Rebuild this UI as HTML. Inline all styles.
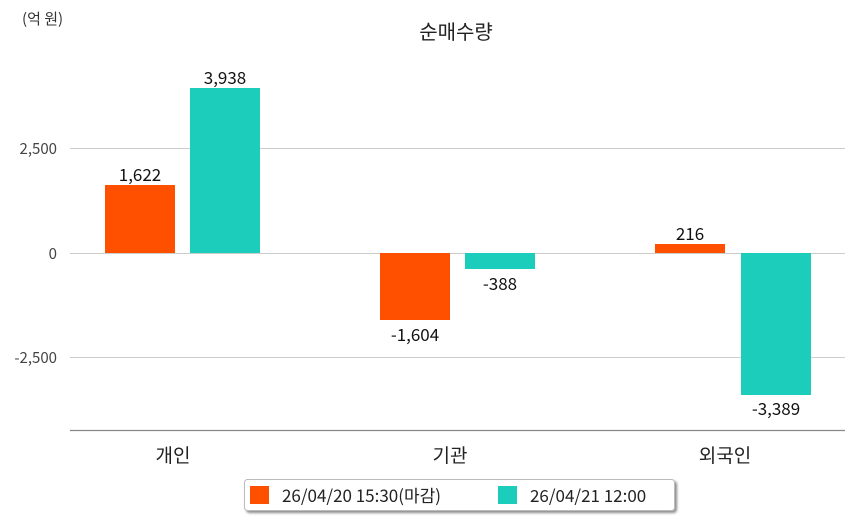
<!DOCTYPE html>
<html><head><meta charset="utf-8"><style>
html,body{margin:0;padding:0;background:#fff;}
svg{display:block;font-family:"Noto Sans CJK KR","NanumGothic",sans-serif;}
</style></head><body>
<svg width="854" height="520" viewBox="0 0 854 520" xmlns="http://www.w3.org/2000/svg">
<defs><filter id="sh" x="-5%" y="-20%" width="110%" height="160%"><feDropShadow dx="2" dy="2" stdDeviation="1.2" flood-color="#000" flood-opacity="0.45"/></filter></defs>
<text x="22" y="24" font-size="15" fill="#333">(억 원)</text>
<text x="456" y="39" font-size="20" fill="#222" text-anchor="middle">순매수량</text>
<g stroke="#cccccc" stroke-width="1">
<line x1="70" y1="148.5" x2="845" y2="148.5"/>
<line x1="70" y1="253.5" x2="845" y2="253.5"/>
<line x1="70" y1="357.5" x2="845" y2="357.5"/>
</g>
<line x1="70" y1="430.5" x2="845" y2="430.5" stroke="#888" stroke-width="1.2"/>
<g font-size="15" fill="#444" text-anchor="end">
<text x="57" y="154">2,500</text>
<text x="57" y="259">0</text>
<text x="57" y="363">-2,500</text>
</g>
<g fill="#ff5000">
<rect x="105" y="185" width="70" height="68"/>
<rect x="380" y="253" width="70" height="67"/>
<rect x="655" y="244" width="70" height="9"/>
</g>
<g fill="#1dcdbc">
<rect x="190" y="88" width="70" height="165"/>
<rect x="465" y="253" width="70" height="16"/>
<rect x="741" y="253" width="70" height="142"/>
</g>
<g font-size="17" fill="#111" text-anchor="middle">
<text x="140" y="181">1,622</text>
<text x="225" y="84">3,938</text>
<text x="415" y="341">-1,604</text>
<text x="500" y="290">-388</text>
<text x="690" y="240">216</text>
<text x="776" y="415">-3,389</text>
</g>
<g font-size="19" fill="#222" text-anchor="middle">
<text x="173" y="462">개인</text>
<text x="450" y="462">기관</text>
<text x="725" y="462">외국인</text>
</g>
<rect x="244.5" y="479.5" width="430" height="31" rx="3" fill="#fff" stroke="#bbb" filter="url(#sh)"/>
<rect x="250" y="486" width="19" height="18" fill="#ff5000"/>
<rect x="498" y="486" width="19" height="18" fill="#1dcdbc"/>
<g font-size="17" fill="#222">
<text x="282" y="502">26/04/20 15:30(마감)</text>
<text x="530" y="502">26/04/21 12:00</text>
</g>
</svg>
</body></html>
